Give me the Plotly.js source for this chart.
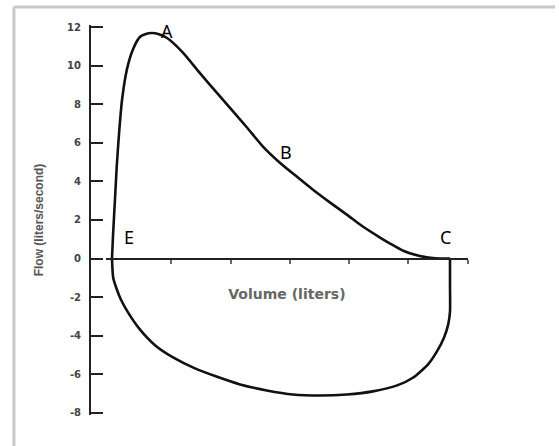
<!DOCTYPE html>
<html>
<head>
<meta charset="utf-8">
<script src="https://cdn.plot.ly/plotly-3.0.1.min.js"></script>
<style>
  html, body { margin: 0; padding: 0; background: #fff; }
  #chart { width: 559px; height: 446px; }
</style>
</head>
<body>
<div id="chart"></div>
<script>
// Expiratory limb (E -> A -> B -> C), volume in liters, flow in liters/second
const expVolume = [0, 0.02, 0.05, 0.08, 0.12, 0.17, 0.25, 0.35, 0.47, 0.57, 0.67, 0.78, 0.93, 1.20, 1.48, 1.77, 1.99, 2.28, 2.55, 2.83, 3.12, 3.39, 3.68, 3.96, 4.23, 4.52, 4.69, 4.91, 5.19, 5.45, 5.70];
const expFlow   = [0, 1.35, 3.05, 4.76, 6.52, 8.23, 9.78, 10.81, 11.48, 11.64, 11.69, 11.64, 11.43, 10.66, 9.62, 8.59, 7.81, 6.78, 5.79, 4.97, 4.24, 3.57, 2.90, 2.28, 1.66, 1.09, 0.78, 0.41, 0.13, 0.02, 0];

// Inspiratory limb (C -> D -> E)
const inspVolume = [5.70, 5.70, 5.70, 5.67, 5.60, 5.48, 5.33, 5.08, 4.81, 4.40, 3.96, 3.51, 3.05, 2.61, 2.16, 1.75, 1.40, 1.03, 0.73, 0.47, 0.27, 0.15, 0.07, 0.02, 0];
const inspFlow   = [0, -1.35, -2.74, -3.41, -4.09, -4.81, -5.48, -6.16, -6.57, -6.88, -7.04, -7.09, -7.04, -6.83, -6.52, -6.10, -5.69, -5.12, -4.50, -3.67, -2.79, -2.12, -1.50, -0.98, 0];

// Axis ticks
const flowTickVals   = [12, 10, 8, 6, 4, 2, 0, -2, -4, -6, -8];
const flowTickText   = ["12", "10", "8", "6", "4", "2", "0", "-2", "-4", "-6", "-8"];
const volumeTickVals = [1, 2, 3, 4, 5, 6];

// Point labels
const pointLabels = ["A", "B", "C", "D", "E"];
const labelVolume = [0.93, 2.93, 5.63, 3.47, 0.29];
const labelFlow   = [11.8, 5.54, 1.14, -8.48, 1.14];

const lineStyle = { color: '#111', width: 2.6, shape: 'spline', smoothing: 0.6 };

const traces = [
  { x: expVolume, y: expFlow, mode: 'lines', line: lineStyle, showlegend: false, hoverinfo: 'skip' },
  { x: inspVolume, y: inspFlow, mode: 'lines', line: lineStyle, showlegend: false, hoverinfo: 'skip' }
];

const annotations = pointLabels.map((t, i) => ({
  x: labelVolume[i], y: labelFlow[i], xref: 'x', yref: 'y',
  text: t, showarrow: false,
  font: { family: 'Noto Sans, Liberation Sans, sans-serif', size: 18, color: '#000' }
}));

const layout = {
  width: 559, height: 446,
  margin: { l: 20, r: 20, t: 20, b: 20 },
  paper_bgcolor: '#fff', plot_bgcolor: '#fff',
  showlegend: false,
  xaxis: {
    domain: [0.1658, 0.8628],
    range: [-0.1, 6],
    anchor: 'free', position: 0.4123,
    showgrid: false, zeroline: false,
    showline: true, linecolor: '#222', linewidth: 2,
    tickvals: volumeTickVals, ticks: 'outside', ticklen: 4, tickwidth: 2, tickcolor: '#666',
    showticklabels: false,
    title: { text: 'Volume (liters)', standoff: 26,
             font: { family: 'DejaVu Sans, sans-serif', size: 14, weight: 'bold', color: '#666' } }
  },
  yaxis: {
    domain: [0.0273, 0.9875],
    range: [-8.1, 12.1],
    anchor: 'free', position: 0.1349,
    showgrid: false, zeroline: false,
    showline: true, linecolor: '#222', linewidth: 2,
    tickvals: flowTickVals, ticktext: flowTickText,
    ticks: 'inside', ticklen: 12, tickwidth: 2, tickcolor: '#222',
    ticklabelstandoff: 6,
    tickfont: { family: 'DejaVu Sans, sans-serif', size: 10, weight: 'bold', color: '#444' },
    title: { text: 'Flow (liters/second)', standoff: 20,
             font: { family: 'Liberation Sans, Arial, sans-serif', size: 12, weight: 'bold', color: '#555' } }
  },
  annotations: annotations,
  shapes: [
    { type: 'line', xref: 'paper', yref: 'paper', x0: -0.0116, x1: 1.0308, y0: 1.032, y1: 1.032,
      line: { color: '#c8c8c8', width: 3 } },
    { type: 'line', xref: 'paper', yref: 'paper', x0: -0.0116, x1: -0.0116, y0: 1.032, y1: -0.06,
      line: { color: '#c8c8c8', width: 3 } }
  ]
};

Plotly.newPlot('chart', traces, layout, { displayModeBar: false, staticPlot: true });
</script>
</body>
</html>
